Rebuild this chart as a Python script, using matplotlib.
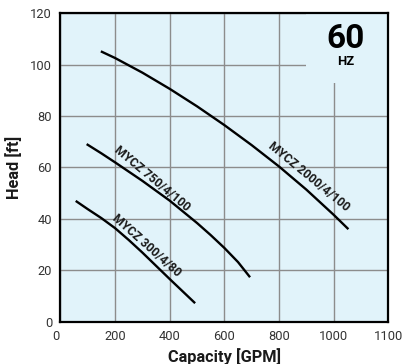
import matplotlib
matplotlib.use("Agg")
import matplotlib.pyplot as plt
from matplotlib.patches import Rectangle
from matplotlib.transforms import ScaledTranslation

plt.rcParams['font.family'] = ['Roboto', 'DejaVu Sans']

# Data
cap_2000 = [148, 200, 300, 400, 500, 600, 700, 800, 900, 1000, 1054]
head_2000 = [105.2, 102.6, 96.9, 90.6, 83.8, 76.5, 68.7, 60.4, 51.4, 41.6, 36.0]

cap_750 = [96, 150, 200, 300, 400, 500, 550, 600, 650, 694]
head_750 = [69.1, 65.5, 62.0, 54.8, 47.1, 38.4, 33.7, 28.7, 23.2, 17.3]

cap_300 = [56, 100, 150, 200, 250, 300, 400, 493]
head_300 = [47.0, 43.8, 40.3, 36.4, 31.8, 26.9, 16.6, 7.2]

series_names = ["MYCZ 2000/4/100", "MYCZ 750/4/100", "MYCZ 300/4/80"]

x_tick_pos = [0, 200, 400, 600, 800, 1000, 1200]
x_tick_labels = ["0", "200", "400", "600", "800", "1000", "1100"]
y_ticks = [0, 20, 40, 60, 80, 100, 120]

BG = "#E1F3FA"

fig = plt.figure(figsize=(4.06, 3.64), dpi=100)
ax = fig.add_axes([0.1488, 0.1162, 0.8076, 0.8473])
ax.set_facecolor(BG)
ax.set_xlim(0, 1200)
ax.set_ylim(0, 120)
ax.set_xticks(x_tick_pos)
ax.set_xticklabels(x_tick_labels)
ax.set_yticks(y_ticks)
ax.set_axisbelow(True)
ax.grid(True, color="#8c8c8c", linewidth=1.0)
ax.tick_params(length=0, labelsize=9.3, labelcolor="#333333", pad=6)

# mask behind the "60 HZ" label
ax.add_patch(Rectangle((900, 93), 300, 27, facecolor=BG, edgecolor="none", zorder=1))

for c, h in [(cap_2000, head_2000), (cap_750, head_750), (cap_300, head_300)]:
    ax.plot(c, h, color="black", linewidth=1.7, solid_capstyle="butt",
            solid_joinstyle="round", zorder=3)

lab_kw = dict(fontsize=8.7, fontweight="bold", color="#1a1a1a", ha="center", va="center",
              rotation_mode="anchor", zorder=4)
ax.text(910, 56.3, series_names[0], rotation=-39.5, **lab_kw)
ax.text(334, 55.8, series_names[1], rotation=-39.8, **lab_kw)
ax.text(316, 29.5, series_names[2], rotation=-41.6, **lab_kw)

ax.text(1042, 110, "60", fontsize=24, fontweight="bold", ha="center", va="center", zorder=4)
ax.text(1043, 101.3, "HZ", fontsize=9.4, fontweight="bold", ha="center", va="center", zorder=4)

for side in ["left", "bottom", "top", "right"]:
    ax.spines[side].set_color("black")
    ax.spines[side].set_linewidth(1.6)
    ax.spines[side].set_zorder(5)

ax.set_xlabel("Capacity [GPM]", fontsize=11.8, fontweight="bold", color="#1a1a1a", labelpad=4)
ax.set_ylabel("Head [ft]", fontsize=11.8, fontweight="bold", color="#1a1a1a", labelpad=6)

lbl0 = ax.get_xticklabels()[0]
lbl0.set_transform(lbl0.get_transform() + ScaledTranslation(-5 / 100, 0, fig.dpi_scale_trans))

fig.savefig("out.png", dpi=100, facecolor="white")
